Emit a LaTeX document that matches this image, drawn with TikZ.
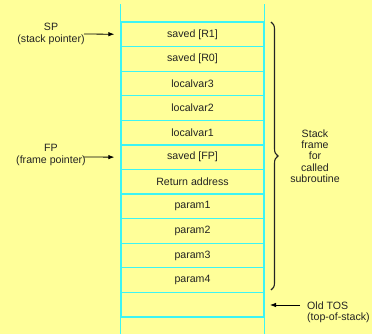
\documentclass[tikz,border=0pt]{standalone}
\usepackage{fontspec}
\setmainfont{Liberation Sans}
\usetikzlibrary{arrows.meta,decorations.pathreplacing}
\definecolor{paper}{RGB}{255,255,153}
\definecolor{cell}{RGB}{60,245,245}
\definecolor{ink}{RGB}{35,35,35}
\begin{document}
\begin{tikzpicture}[x=1pt,y=-1pt,
  font=\fontsize{10.6}{11.3}\selectfont,
  every node/.style={text=ink,inner sep=0pt},
  slot/.style={draw=cell,line width=1.3pt,minimum width=143pt,minimum height=24.58pt},
  ptr/.style={-{Latex[length=6pt,width=4.5pt]},line width=0.8pt,draw=black},
  lbl/.style={align=center}]
  % page and background
  \fill[paper] (0,0) rectangle (372,334);
  \useasboundingbox (0,0) rectangle (372,334);

  % stack slots, top to bottom
  \foreach \name/\txt [count=\i from 0] in {r1/saved [R1],r0/saved [R0],lv3/localvar3,
      lv2/localvar2,lv1/localvar1,sfp/saved [FP],ret/Return address,
      p1/param1,p2/param2,p3/param3,p4/param4,empty/{}}
    \node[slot] (\name) at (192.5,{22+24.58*(\i+0.5)}) {\txt};

  % side walls of the stack run past the listed slots
  \draw[cell,line width=1.3pt] (r1.north west) -- ++(0,-17);
  \draw[cell,line width=1.3pt] (r1.north east) -- ++(0,-17);
  \coordinate (wl) at ([yshift=-17pt]empty.south west);
  \coordinate (wr) at ([yshift=-17pt]empty.south east);
  \draw[cell,line width=1.3pt] (empty.south west) -- (wl);
  \draw[cell,line width=1.3pt] (empty.south east) -- (wr);

  % stack pointer
  \node[lbl] (sp) at (51,34) {SP\\(stack pointer)};
  \coordinate (spTail) at (84,34);
  \draw[ptr,shorten >=6pt] (spTail) -- (r1.west);

  % frame pointer
  \node[lbl] (fp) at (51,155) {FP\\(frame pointer)};
  \coordinate (fpTail) at (84,157);
  \draw[ptr,shorten >=6pt] (fpTail) -- (sfp.west);

  % brace around the frame of the called subroutine
  \coordinate (bTop) at (271,22);
  \coordinate (bBot) at (271,290);
  \draw[line width=1.1pt,ink,decorate,decoration={brace,amplitude=7pt}] (bTop) -- (bBot);
  \node[lbl] (frame) at (315,156) {Stack\\frame\\for\\called\\subroutine};

  % previous top of stack
  \node[anchor=west,align=left] (tos) at (307,312) {Old TOS\\(top-of-stack)};
  \coordinate (tosTail) at (300,305);
  \coordinate (tosHead) at (270,305);
  \draw[ptr] (tosTail) -- (tosHead);
\end{tikzpicture}
\end{document}
